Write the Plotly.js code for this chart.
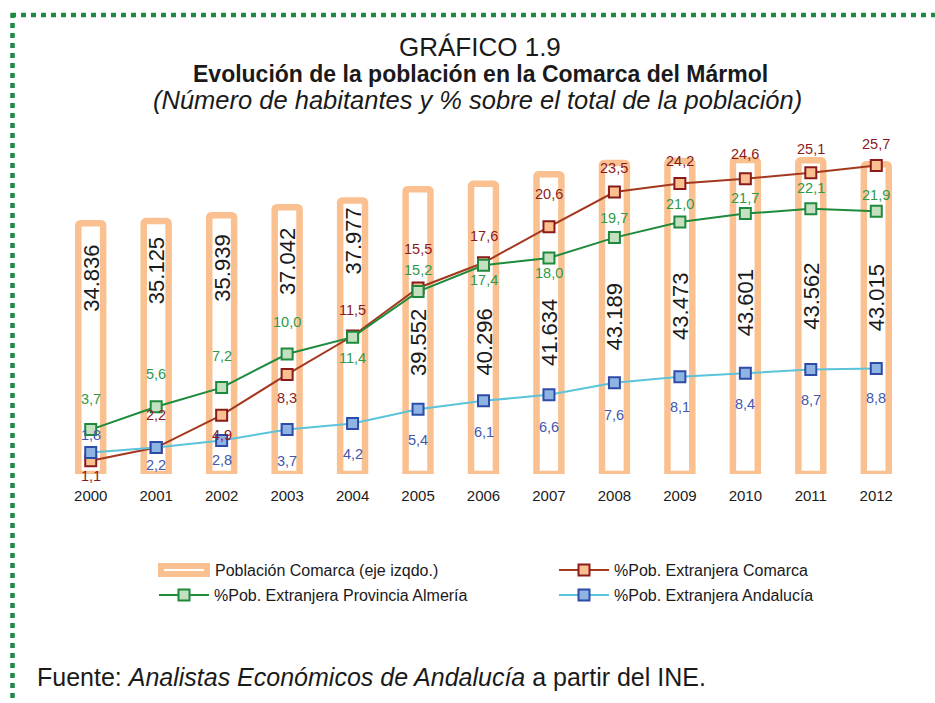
<!DOCTYPE html>
<html>
<head>
<meta charset="utf-8">
<script src="https://cdn.plot.ly/plotly-3.0.1.min.js"></script>
<style>
  html, body { margin: 0; padding: 0; background: #ffffff; }
  #chart { width: 935px; height: 703px; }
</style>
</head>
<body>
<div id="chart"></div>
<script>
// ---------------- DATA ----------------
const years = ['2000','2001','2002','2003','2004','2005','2006','2007','2008','2009','2010','2011','2012'];
const poblacion = [34836, 35125, 35939, 37042, 37977, 39552, 40296, 41634, 43189, 43473, 43601, 43562, 43015];
const pctComarca = [1.1, 2.2, 4.9, 8.3, 11.5, 15.5, 17.6, 20.6, 23.5, 24.2, 24.6, 25.1, 25.7];
const pctAlmeria = [3.7, 5.6, 7.2, 10.0, 11.4, 15.2, 17.4, 18.0, 19.7, 21.0, 21.7, 22.1, 21.9];
const pctAndalucia = [1.8, 2.2, 2.8, 3.7, 4.2, 5.4, 6.1, 6.6, 7.6, 8.1, 8.4, 8.7, 8.8];

const nameBar = 'Población Comarca (eje izqdo.)';
const nameComarca = '%Pob. Extranjera Comarca';
const nameAlmeria = '%Pob. Extranjera Provincia Almería';
const nameAndalucia = '%Pob. Extranjera Andalucía';

const titleMain = 'GRÁFICO 1.9';
const titleSub = '<b>Evolución de la población en la Comarca del Mármol</b>';
const titleNote = '<i>(Número de habitantes y % sobre el total de la población)</i>';
const sourceText = 'Fuente: <i>Analistas Económicos de Andalucía</i> a partir del INE.';

// ---------------- LABEL PLACEMENT (pixels, style only) ----------------
const barLabelShift = [196, 203, 206, 212, 233, 131, 132, 142, 157, 168, 171, 178, 176];
const comarcaShift = [-15, 33, -20, -24, 26, 39, 27, 33, 24, 23, 25, 24, 22];
const almeriaShift = [31, 33, 32, 32, -21, 22, -15, -15, 20, 18, 16, 21, 16];
const andaluciaShift = [17, -17, -20, -31, -30, -31, -31, -32, -32, -30, -31, -30, -30];

// ---------------- GEOMETRY ----------------
const W = 935, H = 703;
const M = {l: 58, r: 26, t: 140, b: 229};
const PW = W - M.l - M.r, PH = H - M.t - M.b;
const px2x = p => (p - M.l) / PW;
const py2y = p => (H - M.b - p) / PH;

const fmtPct = v => v.toFixed(1).replace('.', ',');
const fmtPop = v => String(v).replace(/\B(?=(\d{3})+(?!\d))/g, '.');

const FONT = 'Liberation Sans, Arial, sans-serif';
const BAR_LINE = '#FAC090';

const traces = [
  {
    type: 'bar', x: years, y: poblacion, name: nameBar, yaxis: 'y',
    width: 0.38,
    marker: {color: '#ffffff', line: {color: BAR_LINE, width: 6.5}, cornerradius: 2},
    hoverinfo: 'skip', showlegend: false
  },
  {
    type: 'scatter', mode: 'lines+markers', x: years, y: pctComarca, name: nameComarca, yaxis: 'y2',
    line: {color: '#A3381E', width: 2},
    marker: {symbol: 'square', size: 11, color: '#FAC090', line: {color: '#8B1A1A', width: 2}},
    legend: 'legend2'
  },
  {
    type: 'scatter', mode: 'lines+markers', x: years, y: pctAlmeria, name: nameAlmeria, yaxis: 'y2',
    line: {color: '#1E8A3C', width: 2},
    marker: {symbol: 'square', size: 11, color: '#C4E0C0', line: {color: '#1E8A3C', width: 2}},
    legend: 'legend3'
  },
  {
    type: 'scatter', mode: 'lines+markers', x: years, y: pctAndalucia, name: nameAndalucia, yaxis: 'y2',
    line: {color: '#5BC3DA', width: 2},
    marker: {symbol: 'square', size: 11, color: '#8DB4E2', line: {color: '#2F4BA8', width: 2}},
    legend: 'legend4'
  }
];

const annotations = [];
years.forEach((yr, i) => {
  annotations.push({x: i, y: 0, xref: 'x', yref: 'y', yshift: barLabelShift[i], text: fmtPop(poblacion[i]),
    textangle: -90, showarrow: false, font: {family: FONT, size: 22, color: '#1a1a1a'}});
  annotations.push({x: i, y: pctComarca[i], xref: 'x', yref: 'y2', yshift: comarcaShift[i], text: fmtPct(pctComarca[i]),
    showarrow: false, font: {family: FONT, size: 14.5, color: '#8B1A1A'}});
  annotations.push({x: i, y: pctAlmeria[i], xref: 'x', yref: 'y2', yshift: almeriaShift[i], text: fmtPct(pctAlmeria[i]),
    showarrow: false, font: {family: FONT, size: 14.5, color: '#2E9A48'}});
  annotations.push({x: i, y: pctAndalucia[i], xref: 'x', yref: 'y2', yshift: andaluciaShift[i], text: fmtPct(pctAndalucia[i]),
    showarrow: false, font: {family: FONT, size: 14.5, color: '#4357B0'}});
});

const paperText = (px, py, text, size, xanchor) => ({xref: 'paper', yref: 'paper', x: px2x(px), y: py2y(py),
  xanchor: xanchor || 'center', yanchor: 'middle', text: text, showarrow: false,
  font: {family: FONT, size: size, color: '#1a1a1a'}});

annotations.push(paperText(480, 47, titleMain, 26));
annotations.push(paperText(480, 74, titleSub, 23));
annotations.push(paperText(477, 100, titleNote, 25.5));
annotations.push(paperText(35, 677, sourceText, 25, 'left'));
// legend entry for the bars (custom swatch)
annotations.push(paperText(213, 570, nameBar, 16, 'left'));

const borderColor = '#1E8B45';
const shapes = [
  {type: 'line', xref: 'paper', yref: 'paper', x0: px2x(11), x1: px2x(935), y0: py2y(15), y1: py2y(15),
    line: {color: borderColor, width: 4.5, dash: '5px,5px'}},
  {type: 'line', xref: 'paper', yref: 'paper', x0: px2x(12.5), x1: px2x(12.5), y0: py2y(13), y1: py2y(703),
    line: {color: borderColor, width: 4.5, dash: '5px,5px'}},
  // bar legend swatch
  {type: 'rect', xref: 'paper', yref: 'paper', x0: px2x(161), x1: px2x(207), y0: py2y(566), y1: py2y(574),
    fillcolor: '#ffffff', line: {color: BAR_LINE, width: 6}},
];

const legendCommon = {orientation: 'h', xanchor: 'left', yanchor: 'middle',
  itemwidth: 50, bgcolor: 'rgba(0,0,0,0)', font: {family: FONT, size: 16, color: '#1a1a1a'}};

const layout = {
  width: W, height: H,
  margin: M,
  paper_bgcolor: '#ffffff', plot_bgcolor: '#ffffff',
  showlegend: true,
  xaxis: {type: 'category', range: [-0.5, years.length - 0.5], showgrid: false, zeroline: false, showline: false, ticks: '',
    ticklabelstandoff: 11, tickfont: {family: FONT, size: 15, color: '#1a1a1a'}, fixedrange: true},
  yaxis: {range: [0, PH / 0.0072], visible: false, fixedrange: true},
  yaxis2: {range: [0, PH / 12], overlaying: 'y', side: 'right', visible: false, fixedrange: true},
  legend2: Object.assign({}, legendCommon, {x: px2x(554), y: py2y(570)}),
  legend3: Object.assign({}, legendCommon, {x: px2x(154), y: py2y(595)}),
  legend4: Object.assign({}, legendCommon, {x: px2x(554), y: py2y(595)}),
  annotations: annotations,
  shapes: shapes
};

Plotly.newPlot('chart', traces, layout, {displayModeBar: false, staticPlot: true});
</script>
</body>
</html>
